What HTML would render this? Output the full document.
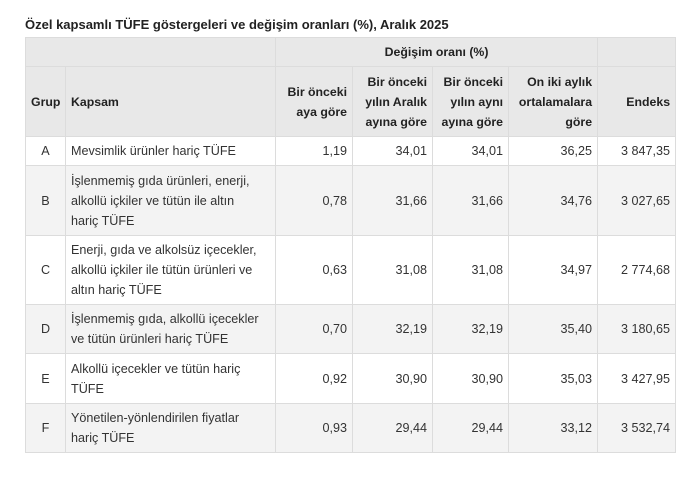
<!DOCTYPE html>
<html><head><meta charset="utf-8"><style>
body{margin:0;width:700px;height:483px;background:#fff;font-family:"Liberation Sans","DejaVu Sans",sans-serif;color:#222;overflow:hidden}
.t{position:absolute;left:25px;top:17px;font-weight:bold;font-size:13px}
table{position:absolute;left:25px;top:37px;width:650px;border-collapse:collapse;font-size:12.6px;line-height:20px;table-layout:fixed}
td,th{border:1px solid #dcdcdc;padding:0 5px;vertical-align:middle;overflow:hidden}
td{color:#333}
th{background:#e8e8e8;font-weight:bold;white-space:nowrap;font-size:12.3px}
.r{text-align:right}.c{text-align:center}.l{text-align:left}
tr.g td{background:#f3f3f3}
</style></head><body>
<div class="t">Özel kapsamlı TÜFE göstergeleri ve değişim oranları (%), Aralık 2025</div>
<table>
<colgroup><col style="width:40px"><col style="width:210px"><col style="width:77px"><col style="width:80px"><col style="width:76px"><col style="width:89px"><col style="width:78px"></colgroup>
<tr style="height:29px"><th colspan="2"></th><th colspan="4" class="c">Değişim oranı (%)</th><th></th></tr>
<tr style="height:70px"><th class="c">Grup</th><th class="l">Kapsam</th><th class="r">Bir önceki<br>aya göre</th><th class="r">Bir önceki<br>yılın Aralık<br>ayına göre</th><th class="r">Bir önceki<br>yılın aynı<br>ayına göre</th><th class="r">On iki aylık<br>ortalamalara<br>göre</th><th class="r">Endeks</th></tr>
<tr style="height:29px"><td class="c">A</td><td>Mevsimlik ürünler hariç TÜFE</td><td class="r">1,19</td><td class="r">34,01</td><td class="r">34,01</td><td class="r">36,25</td><td class="r">3 847,35</td></tr>
<tr class="g" style="height:70px"><td class="c">B</td><td>İşlenmemiş gıda ürünleri, enerji,<br>alkollü içkiler ve tütün ile altın<br>hariç TÜFE</td><td class="r">0,78</td><td class="r">31,66</td><td class="r">31,66</td><td class="r">34,76</td><td class="r">3 027,65</td></tr>
<tr style="height:69px"><td class="c">C</td><td>Enerji, gıda ve alkolsüz içecekler,<br>alkollü içkiler ile tütün ürünleri ve<br>altın hariç TÜFE</td><td class="r">0,63</td><td class="r">31,08</td><td class="r">31,08</td><td class="r">34,97</td><td class="r">2 774,68</td></tr>
<tr class="g" style="height:49px"><td class="c">D</td><td>İşlenmemiş gıda, alkollü içecekler<br>ve tütün ürünleri hariç TÜFE</td><td class="r">0,70</td><td class="r">32,19</td><td class="r">32,19</td><td class="r">35,40</td><td class="r">3 180,65</td></tr>
<tr style="height:50px"><td class="c">E</td><td>Alkollü içecekler ve tütün hariç<br>TÜFE</td><td class="r">0,92</td><td class="r">30,90</td><td class="r">30,90</td><td class="r">35,03</td><td class="r">3 427,95</td></tr>
<tr class="g" style="height:49px"><td class="c">F</td><td>Yönetilen-yönlendirilen fiyatlar<br>hariç TÜFE</td><td class="r">0,93</td><td class="r">29,44</td><td class="r">29,44</td><td class="r">33,12</td><td class="r">3 532,74</td></tr>
</table>
</body></html>
